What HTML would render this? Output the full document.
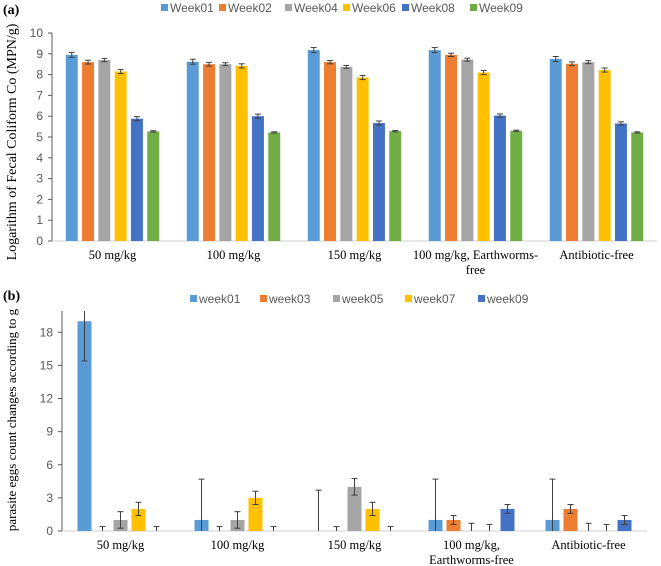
<!DOCTYPE html>
<html><head><meta charset="utf-8"><style>
body{margin:0;background:#fff;width:661px;height:566px;overflow:hidden}
svg{display:block}
.tk{font-family:"Liberation Sans",sans-serif;font-size:12px;fill:#595959}
.cat{font-family:"Liberation Serif",serif;font-size:12.5px;fill:#000}
.lg{font-family:"Liberation Sans",sans-serif;font-size:12px;fill:#595959}
.ttl{font-family:"Liberation Serif",serif;fill:#000}
</style></head><body>
<svg id="s" width="661" height="566"></svg>
<script>
const colors=["#5B9BD5","#ED7D31","#A5A5A5","#FFC000","#4472C4","#70AD47"];
// chart (a)
const catsA=["50 mg/kg","100 mg/kg","150 mg/kg","100 mg/kg, Earthworms-|free","Antibiotic-free"];
const seriesA=["Week01","Week02","Week04","Week06","Week08","Week09"];
const valsA=[[8.95,8.62,9.18,9.18,8.75],[8.6,8.5,8.6,8.95,8.52],[8.7,8.5,8.37,8.72,8.6],[8.15,8.42,7.86,8.1,8.22],[5.88,6.0,5.67,6.03,5.65],[5.27,5.22,5.28,5.3,5.22]];
const errA=[[0.12,0.12,0.12,0.12,0.12],[0.09,0.09,0.08,0.08,0.09],[0.08,0.07,0.07,0.07,0.07],[0.1,0.1,0.1,0.1,0.1],[0.1,0.1,0.1,0.08,0.08],[0.03,0.03,0.03,0.03,0.03]];
const ticksA=[0,1,2,3,4,5,6,7,8,9,10];
// chart (b)
const catsB=["50 mg/kg","100 mg/kg","150 mg/kg","100 mg/kg,|Earthworms-free","Antibiotic-free"];
const seriesB=["week01","week03","week05","week07","week09"];
const colorsB=["#5B9BD5","#ED7D31","#A5A5A5","#FFC000","#4472C4"];
const valsB=[[19,1,0,1,1],[0,0,0,1,2],[1,1,4,0,0],[2,3,2,0,0],[0,0,0,2,1]];
const errB=[[3.6,3.7,3.7,3.7,3.7],[0.4,0.4,0.4,0.4,0.4],[0.75,0.75,0.75,0.7,0.7],[0.6,0.6,0.6,0.6,0.6],[0.4,0.4,0.4,0.4,0.4]];
const ticksB=[0,3,6,9,12,15,18];

const S=document.getElementById('s');const NS="http://www.w3.org/2000/svg";
function el(t,a,txt){const e=document.createElementNS(NS,t);for(const k in a)e.setAttribute(k,a[k]);if(txt!=null)e.textContent=txt;S.appendChild(e);return e;}

function chart(o){
  const y=v=>o.y0-(v)*o.ppu;
  const yTop=o.yTop;
  let ax=el('line',{x1:o.x0,y1:yTop,x2:o.x0,y2:o.y0,stroke:'#595959','stroke-width':1});
  
  let bx=el('line',{x1:o.x0,y1:o.y0,x2:o.x1,y2:o.y0,stroke:'#d0d0d0','stroke-width':1});
  
  o.ticks.forEach(t=>{
    el('line',{x1:o.x0-4,y1:y(t),x2:o.x0,y2:y(t),stroke:'#595959'});
    const tx=el('text',{x:o.x0-9,y:y(t)+4,'text-anchor':'end',class:'tk'},t);
    
  });
  const gw=(o.x1-o.x0)/o.cats.length;const n=o.series.length;
  o.cats.forEach((c,i)=>{
    const cx=o.x0+gw*(i+0.5);
    const lines=c.split('|');
    lines.forEach((l,j)=>{
      const t=el('text',{x:cx,y:o.y0+18+j*15,'text-anchor':'middle',class:'cat'},l);
      
    });
    for(let s=0;s<n;s++){
      const bc=cx+(s-(n-1)/2)*o.step;const v=o.vals[s][i];const e=o.err[s][i];
      if(v>0){
        const r=el('rect',{x:bc-o.bw/2,y:y(v),width:o.bw,height:o.y0-y(v),fill:o.colors[s]});
        
      }
      const hi=Math.max(y(v+e),yTop);const lo=Math.min(y(v-e),o.y0);
      el('line',{x1:bc,y1:hi,x2:bc,y2:lo,stroke:'#404040','stroke-width':1});
      if(y(v+e)>=yTop)el('line',{x1:bc-3,y1:hi,x2:bc+3,y2:hi,stroke:'#404040'});
      if(v-e>0)el('line',{x1:bc-3,y1:lo,x2:bc+3,y2:lo,stroke:'#404040'});
    }
  });
  o.series.forEach((s,i)=>{
    const lx=o.legX[i];
    const r=el('rect',{x:lx,y:o.legY-4,width:7,height:7,fill:o.colors[i]});
    
    const t=el('text',{x:lx+9,y:o.legY+4,class:'lg'},s);
    
  });
  const tt=el('text',{x:o.tx,y:o.ty,'text-anchor':'middle',class:'ttl','font-size':o.tfs,transform:`rotate(-90 ${o.tx} ${o.ty})`},o.title);
  
  const pl=el('text',{x:3,y:o.panelY,style:'font-family:"Liberation Serif",serif;font-weight:bold;font-size:14px'},o.panel);
  
}
chart({p:'chart-a',x0:52,x1:657,y0:241,yTop:33,ppu:20.8,ticks:ticksA,cats:catsA,series:seriesA,vals:valsA,err:errA,colors:colors,bw:12,step:16.3,
  legX:[161,219,285,343,402,470],legY:8,title:'Logarithm of Fecal Coliform Co (MPN/g)',tfs:14,tx:16,ty:142,panel:'(a)',panelY:14});
chart({p:'chart-b',x0:62,x1:647,y0:531,yTop:311,ppu:11.04,ticks:ticksB,cats:catsB,series:seriesB,vals:valsB,err:errB,colors:colorsB,bw:14,step:18,
  legX:[190,260,333,405,478],legY:299,title:'parasite eggs count changes according to g',tfs:13,tx:16,ty:420,panel:'(b)',panelY:300});
</script>
</body></html>
